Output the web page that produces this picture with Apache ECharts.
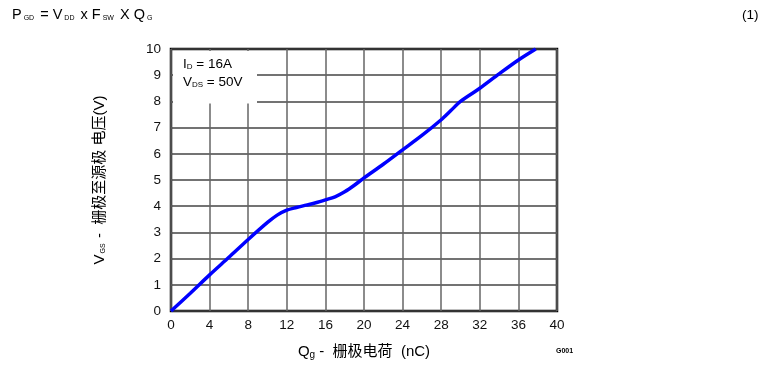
<!DOCTYPE html>
<html><head><meta charset="utf-8">
<script src="https://cdn.jsdelivr.net/npm/echarts@6/dist/echarts.min.js"></script>
<style>html,body{margin:0;padding:0;background:#fff}#c{width:769px;height:366px}</style>
</head><body><div id="c"></div>
<script>
const qg = [0, 2, 4, 6, 8, 10, 11, 12, 13, 14, 15, 16, 17, 18, 19, 20, 22, 24, 26, 28, 29, 30, 32, 34, 36, 37.8];
const vgs = [0, 0.68, 1.38, 2.05, 2.73, 3.38, 3.66, 3.85, 3.95, 4.04, 4.13, 4.24, 4.36, 4.55, 4.8, 5.08, 5.6, 6.15, 6.7, 7.3, 7.65, 8.0, 8.5, 9.05, 9.58, 10];
const xTicks = [0, 4, 8, 12, 16, 20, 24, 28, 32, 36, 40];
const yTicks = [0, 1, 2, 3, 4, 5, 6, 7, 8, 9, 10];

const font = '"Liberation Sans", Arial, sans-serif';
const cjk = '"Liberation Sans", "Noto Sans CJK SC", sans-serif';
const chart = echarts.init(document.getElementById('c'));
chart.setOption({
  animation: false,
  grid: {left: 171, right: 212, top: 49, bottom: 55, show: true, borderColor: '#000', borderWidth: 2.5, backgroundColor: 'transparent'},
  xAxis: {
    type: 'value', min: xTicks[0], max: xTicks[xTicks.length - 1], interval: 4,
    axisLine: {show: false}, axisTick: {show: false},
    splitLine: {show: true, lineStyle: {color: '#666', width: 1.5}},
    axisLabel: {color: '#111', fontSize: 13.5, fontFamily: font, margin: 7},
    name: '{a|Q}{s|g}{a| -  栅极电荷  (nC)}', nameLocation: 'middle', nameGap: 33,
    nameTextStyle: {rich: {a: {fontSize: 15, fontFamily: cjk, color: '#000'}, s: {fontSize: 10, fontFamily: font, color: '#000', verticalAlign: 'bottom', padding: [6, 0, 0, 0]}}}
  },
  yAxis: {
    type: 'value', min: yTicks[0], max: yTicks[yTicks.length - 1], interval: 1,
    axisLine: {show: false}, axisTick: {show: false},
    splitLine: {show: true, lineStyle: {color: '#444', width: 1.5}},
    axisLabel: {color: '#111', fontSize: 13.5, fontFamily: font, margin: 10},
    name: '{a|V}{s|GS}{a| -  栅极至源极 电压(V)}', nameLocation: 'middle', nameRotate: 90, nameGap: 64,
    nameTextStyle: {rich: {a: {fontSize: 15, fontFamily: cjk, color: '#000'}, s: {fontSize: 7, fontFamily: font, color: '#000', verticalAlign: 'bottom', padding: [5, 1, 0, 1]}}}
  },
  series: [{
    type: 'line', data: qg.map((q, i) => [q, vgs[i]]), smooth: 0.3, showSymbol: false,
    lineStyle: {color: '#0000ff', width: 3.5}, z: 5
  }],
  graphic: [
    {type: 'rect', shape: {x: 173, y: 51, width: 84, height: 52.5}, style: {fill: '#fff'}, z: 10},
    {type: 'text', left: 183, top: 57, z: 11, style: {
      text: '{a|I}{s|D}{a| = 16A}', rich: {a: {fontSize: 13.5, fontFamily: font, fill: '#000'}, s: {fontSize: 8, fontFamily: font, fill: '#000', verticalAlign: 'bottom', padding: [5, 0, 0, 0]}}}},
    {type: 'text', left: 183, top: 75, z: 11, style: {
      text: '{a|V}{s|DS}{a| = 50V}', rich: {a: {fontSize: 13.5, fontFamily: font, fill: '#000'}, s: {fontSize: 8, fontFamily: font, fill: '#000', verticalAlign: 'bottom', padding: [5, 0, 0, 0]}}}},
    {type: 'text', left: 12, top: 7, style: {
      text: '{a|P}{s|GD}{a| = V}{s|DD}{a| x F}{s|SW}{a| X Q}{s|G}',
      rich: {a: {fontSize: 14.5, fontFamily: font, fill: '#000'}, s: {fontSize: 7, fontFamily: font, fill: '#000', verticalAlign: 'bottom', padding: [5, 2, 0, 2]}}}},
    {type: 'text', left: 742, top: 8, style: {text: '(1)', fontSize: 13.5, fontFamily: font, fill: '#000'}},
    {type: 'text', left: 556, top: 348, style: {text: 'G001', fontSize: 7, fontWeight: 'bold', fontFamily: font, fill: '#000'}}
  ]
});
</script></body></html>
